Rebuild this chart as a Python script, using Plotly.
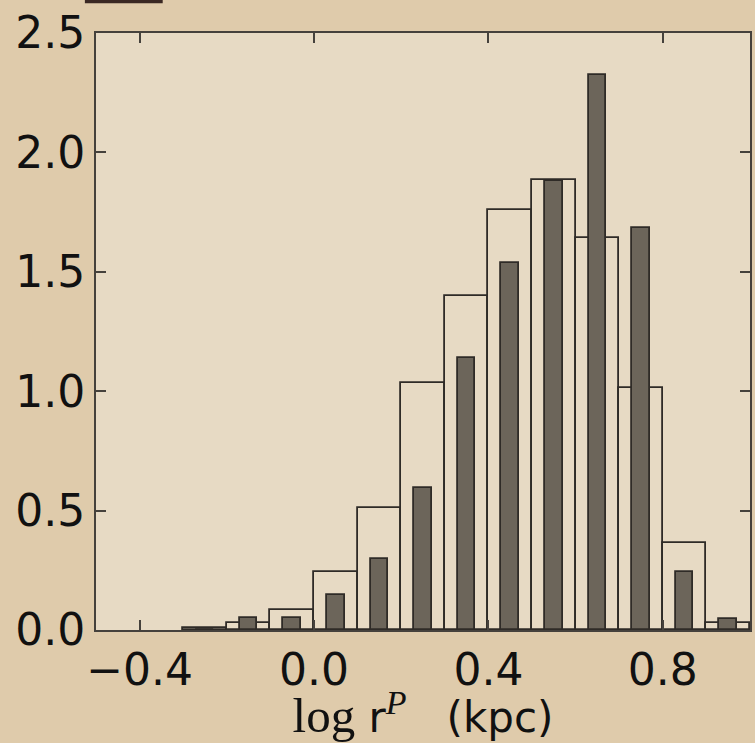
import plotly.graph_objects as go

# ---- data (density histogram, bins of width 0.1) ----
bin_centers = [-0.25, -0.15, -0.05, 0.05, 0.15, 0.25, 0.35, 0.45, 0.55, 0.65, 0.75, 0.85, 0.95]
all_density = [0.008, 0.028, 0.084, 0.244, 0.512, 1.033, 1.40, 1.759, 1.884, 1.640, 1.012, 0.363, 0.030]
sub_density = [0.0, 0.049, 0.049, 0.147, 0.296, 0.593, 1.138, 1.536, 1.880, 2.324, 1.682, 0.244, 0.047]
x_ticks = [-0.4, 0.0, 0.4, 0.8]
x_tick_text = ["\u22120.4", "0.0", "0.4", "0.8"]
y_ticks = [0.0, 0.5, 1.0, 1.5, 2.0, 2.5]
y_tick_text = ["0.0", "0.5", "1.0", "1.5", "2.0", "2.5"]

BG_PAPER = "#dfcbab"
BG_PLOT = "#e7dac4"
EDGE = "#2f2b27"
AXIS = "#45413c"

fig = go.Figure()
fig.add_trace(go.Bar(
    x=bin_centers, y=all_density, width=0.1,
    marker=dict(color="rgba(0,0,0,0)", line=dict(color=EDGE, width=1.8)),
    showlegend=False, hoverinfo="skip",
))
fig.add_trace(go.Bar(
    x=bin_centers, y=sub_density, width=0.04,
    marker=dict(color="#6c655a", line=dict(color=EDGE, width=1.8)),
    showlegend=False, hoverinfo="skip",
))

title_html = ('<span style="font-family:\'Liberation Serif\';font-size:49px">log</span> r'
              '<sup><span style="font-family:\'Liberation Serif\';font-style:italic;font-size:34px">P</span></sup>'
              '&nbsp;&nbsp;&nbsp;(kpc)')

fig.update_layout(
    width=755, height=743,
    margin=dict(l=96, r=3, t=33, b=113),
    paper_bgcolor=BG_PAPER,
    plot_bgcolor=BG_PLOT,
    barmode="overlay",
    bargap=0,
    font=dict(family="DejaVu Sans", size=44, color="#111111"),
    xaxis=dict(
        range=[-0.5, 1.0],
        tickmode="array", tickvals=x_ticks, ticktext=x_tick_text,
        ticks="inside", ticklen=10, tickwidth=1.5, tickcolor=AXIS,
        showline=True, linecolor=AXIS, linewidth=2, mirror="ticks",
        showgrid=False, zeroline=False,
        title=dict(text=title_html, font=dict(size=42, family="DejaVu Sans"), standoff=6),
    ),
    yaxis=dict(
        range=[0, 2.5],
        tickmode="array", tickvals=y_ticks, ticktext=y_tick_text,
        ticks="inside", ticklen=10, tickwidth=1.5, tickcolor=AXIS,
        showline=True, linecolor=AXIS, linewidth=2, mirror="ticks",
        showgrid=False, zeroline=False,
    ),
    shapes=[dict(type="rect", xref="paper", yref="paper",
                 x0=-0.017, x1=0.102, y0=1.050, y1=1.06,
                 fillcolor="#3a2823", line=dict(width=0))],
)

fig.write_html("out.html")
